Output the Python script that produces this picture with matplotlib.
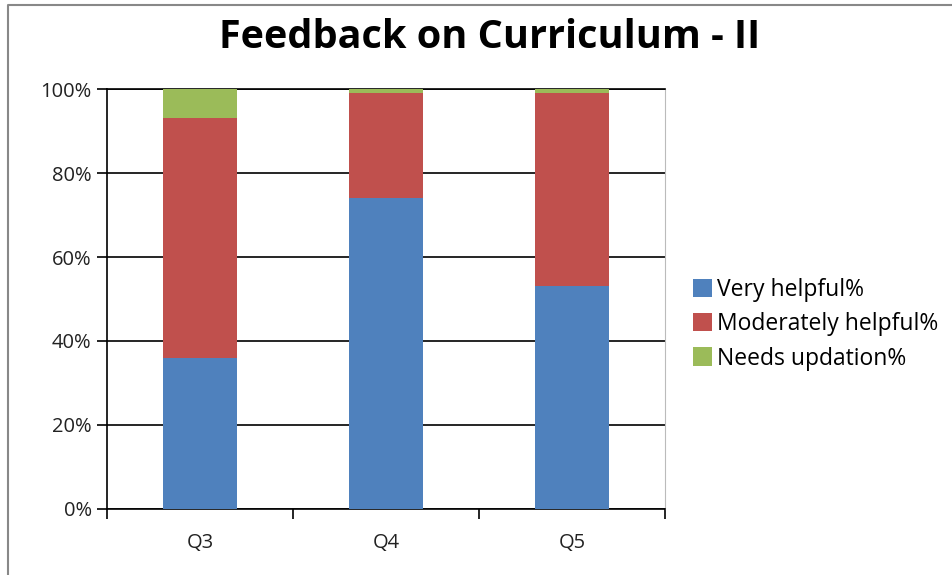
import matplotlib.pyplot as plt
from matplotlib.lines import Line2D
import numpy as np

# data
questions = ["Q3", "Q4", "Q5"]
very_helpful = [36, 74, 53]
moderately_helpful = [57, 25, 46]
needs_updation = [7, 1, 1]

series_names = ["Very helpful%", "Moderately helpful%", "Needs updation%"]
colors = ["#4F81BD", "#C0504D", "#9BBB59"]

plt.rcParams["font.family"] = ["Open Sans", "DejaVu Sans"]

fig = plt.figure(figsize=(9.52, 5.75), dpi=100)
ax = fig.add_axes([0.1124, 0.1148, 0.5862, 0.7304])

x = np.arange(len(questions))
bottom = np.zeros(len(questions))
for vals, name, c in zip([very_helpful, moderately_helpful, needs_updation], series_names, colors):
    ax.bar(x, vals, width=0.4, bottom=bottom, color=c, label=name, zorder=3)
    bottom += np.array(vals)

ax.set_xlim(-0.5, 2.5)
ax.set_ylim(0, 100)
ax.set_yticks(range(0, 101, 20))
ax.set_yticklabels([f"{v}%" for v in range(0, 101, 20)], fontsize=14.5, color="#222222")
ax.yaxis.grid(True, color="black", linewidth=1.2, zorder=0)

ax.set_xticks(x)
ax.set_xticklabels(questions, fontsize=14.5, color="#222222")
ax.tick_params(axis="x", which="major", length=0, pad=17)
ax.set_xticks([-0.5, 0.5, 1.5, 2.5], minor=True)
ax.tick_params(axis="x", which="minor", length=7, width=1.2, direction="out")
ax.tick_params(axis="y", length=7, width=1.2, direction="out", pad=4)

for s in ["left", "bottom"]:
    ax.spines[s].set_linewidth(1.2)
    ax.spines[s].set_color("black")
ax.spines["top"].set_linewidth(1.2)
ax.spines["right"].set_color("#bbbbbb")

fig.text(0.514, 0.934, "Feedback on Curriculum - II", ha="center", va="center",
         fontsize=28.5, fontweight="bold")

ax.legend(loc="center left", bbox_to_anchor=(1.033, 0.44), frameon=False,
          fontsize=16.5, handlelength=0.85, handleheight=0.85, handletextpad=0.2,
          labelspacing=0.45, borderaxespad=0)

# outer chart border (only top and left edges visible)
fig.add_artist(Line2D([7.5 / 952, 7.5 / 952, 1.0], [0.0, 1 - 4.5 / 575, 1 - 4.5 / 575],
                      transform=fig.transFigure, color="#888888", linewidth=1.5))

fig.savefig("out.png", dpi=100)
